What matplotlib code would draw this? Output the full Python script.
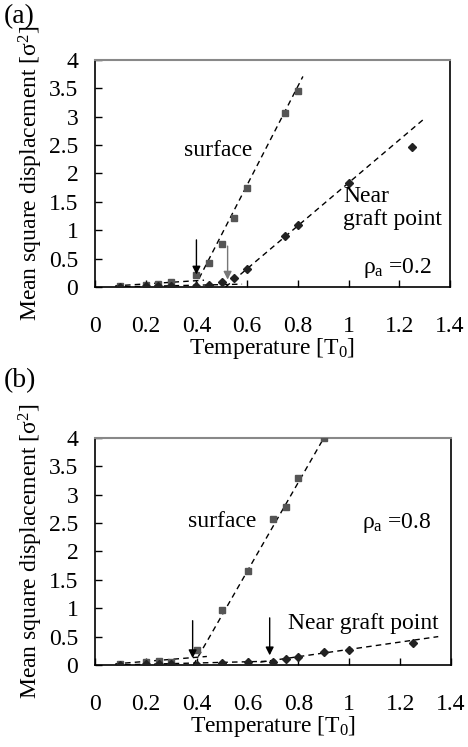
import matplotlib.pyplot as plt
import matplotlib as mpl

mpl.rcParams.update({
    'font.family': 'Liberation Serif',
    'font.size': 17,
    'mathtext.fontset': 'custom',
    'mathtext.rm': 'Liberation Serif',
    'mathtext.it': 'Liberation Serif',
    'mathtext.bf': 'Liberation Serif:bold',
})

# --- data --- #

# panel (a), rho_a = 0.2
a_surf_T = [0.1, 0.2, 0.25, 0.3, 0.4, 0.45, 0.5, 0.55, 0.6, 0.75, 0.8]
a_surf_msd = [0.02, 0.04, 0.05, 0.08, 0.22, 0.43, 0.76, 1.22, 1.75, 3.06, 3.45]
a_graft_T = [0.1, 0.2, 0.25, 0.3, 0.4, 0.45, 0.5, 0.55, 0.6, 0.75, 0.8, 1.0, 1.25]
a_graft_msd = [0.0, 0.01, 0.01, 0.01, 0.02, 0.03, 0.08, 0.16, 0.32, 0.90, 1.09, 1.83, 2.46]
# fitted dashed lines (x endpoints, y endpoints)
a_fit_surf_low = ([0.08, 0.43], [0.02, 0.12])
a_fit_surf_high = ([0.393, 0.82], [0.0, 3.71])
a_fit_graft_low = ([0.08, 0.58], [0.0, 0.05])
a_fit_graft_high = ([0.515, 1.3], [0.0, 2.97])
# transition arrows: x, y start, y end, colour
a_arrows = [(0.40, 0.83, 0.22, 'black'), (0.523, 0.72, 0.13, '#777777')]

# panel (b), rho_a = 0.8
b_surf_T = [0.1, 0.2, 0.25, 0.3, 0.4, 0.5, 0.6, 0.7, 0.75, 0.8, 0.9]
b_surf_msd = [0.02, 0.05, 0.07, 0.06, 0.27, 0.96, 1.66, 2.57, 2.79, 3.30, 4.0]
b_graft_T = [0.1, 0.2, 0.25, 0.3, 0.4, 0.5, 0.6, 0.7, 0.75, 0.8, 0.9, 1.0, 1.25]
b_graft_msd = [0.0, 0.02, 0.02, 0.02, 0.0, 0.03, 0.05, 0.06, 0.10, 0.14, 0.22, 0.26, 0.38]
b_fit_surf_low = ([0.08, 0.44], [0.02, 0.15])
b_fit_surf_high = ([0.387, 0.9], [0.0, 4.0])
b_fit_graft_low = ([0.08, 0.72], [0.0, 0.07])
b_fit_graft_high = ([0.65, 1.35], [0.05, 0.5])
b_arrows = [(0.384, 0.78, 0.12, 'black'), (0.687, 0.83, 0.17, 'black')]

x_ticks = [0, 0.2, 0.4, 0.6, 0.8, 1.0, 1.2, 1.4]
x_labels = ['0', '0.2', '0.4', '0.6', '0.8', '1', '1.2', '1.4']
y_ticks = [0, 0.5, 1, 1.5, 2, 2.5, 3, 3.5, 4]
y_labels = ['0', '0.5', '1', '1.5', '2', '2.5', '3', '3.5', '4']

surf_color = '#555555'
graft_color = '#222222'

# --- end data --- #

fig = plt.figure(figsize=(4.68, 7.47), dpi=100)
ax_a = fig.add_axes([0.203, 0.6158, 0.7585, 0.3039])
ax_b = fig.add_axes([0.203, 0.1098, 0.7606, 0.3039])


def draw_panel(ax, surf_T, surf_msd, graft_T, graft_msd, fits, arrows):
    for xs, ys in fits:
        ax.plot(xs, ys, color='black', lw=1.0, ls=(0, (4, 3)), zorder=2)
    ax.plot(surf_T, surf_msd, ls='none', marker='s', ms=4.2,
            color=surf_color, zorder=3)
    ax.plot(graft_T, graft_msd, ls='none', marker='D', ms=4.5,
            color=graft_color, zorder=3)
    for x, y0, y1, c in arrows:
        ax.annotate('', xy=(x, y1), xytext=(x, y0),
                    arrowprops=dict(arrowstyle='-|>', color=c, lw=1.0,
                                    mutation_scale=12, shrinkA=0, shrinkB=0))
    ax.set_xlim(0, 1.4)
    ax.set_ylim(0, 4)
    ax.set_xticks(x_ticks)
    ax.set_xticklabels(x_labels)
    ax.set_yticks(y_ticks)
    ax.set_yticklabels(y_labels)
    ax.tick_params(axis='x', direction='in', length=5, width=1, pad=21)
    ax.tick_params(axis='y', direction='in', length=5, width=1, pad=12)
    for side in ['left', 'bottom', 'right']:
        ax.spines[side].set_color('black')
        ax.spines[side].set_linewidth(1.2)
    ax.spines['top'].set_color('#888888')
    ax.spines['top'].set_linewidth(1.5)
    ax.set_xlabel('Temperature [T$_0$]', labelpad=-1)
    ax.set_ylabel('Mean square displacement [σ$^2$]', labelpad=3)


draw_panel(ax_a, a_surf_T, a_surf_msd, a_graft_T, a_graft_msd,
           [a_fit_surf_low, a_fit_surf_high, a_fit_graft_low, a_fit_graft_high],
           a_arrows)
ax_a.text(0.485, 2.41, 'surface', ha='center', va='center')
ax_a.text(0.98, 1.78, 'Near\ngraft point', ha='left', va='top', linespacing=1.1)
ax_a.text(1.057, 0.33, r'$\rho_{\mathrm{a}}$ =0.2', ha='left', va='center')

draw_panel(ax_b, b_surf_T, b_surf_msd, b_graft_T, b_graft_msd,
           [b_fit_surf_low, b_fit_surf_high, b_fit_graft_low, b_fit_graft_high],
           b_arrows)
ax_b.text(0.50, 2.53, 'surface', ha='center', va='center')
ax_b.text(0.76, 0.73, 'Near graft point', ha='left', va='center')
ax_b.text(1.05, 2.50, r'$\rho_{\mathrm{a}}$ =0.8', ha='left', va='center')

fig.text(0.008, 0.978, '(a)', ha='left', va='center', fontsize=20)
fig.text(0.008, 0.49, '(b)', ha='left', va='center', fontsize=20)

plt.savefig('out.png', dpi=100)
